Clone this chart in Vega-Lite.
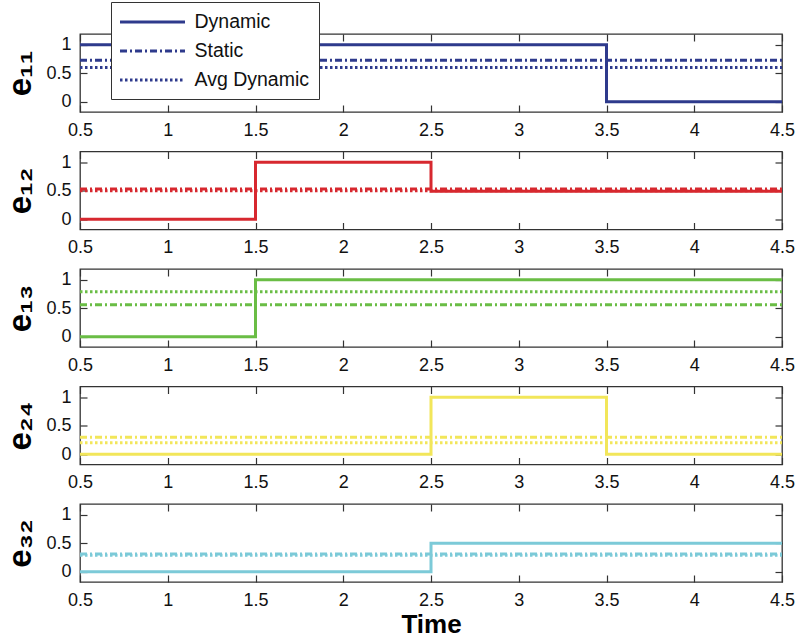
{
  "$schema": "https://vega.github.io/schema/vega-lite/v6.json",
  "padding": {"left": 4, "top": 0, "right": 0, "bottom": 0},
  "bounds": "flush",
  "spacing": 39.5,
  "background": "white",
  "config": {
    "font": "Liberation Sans",
    "view": {"stroke": "#333333", "strokeWidth": 1.3},
    "axis": {
      "grid": false,
      "domain": false,
      "labelFlush": false,
      "labelFont": "Liberation Sans",
      "labelFontSize": 18,
      "labelColor": "#111111",
      "tickColor": "#333333",
      "tickSize": -7,
      "tickWidth": 1.2,
      "labelPadding": 16,
      "titleFont": "Liberation Sans",
      "titleFontSize": 26,
      "titleFontWeight": "bold",
      "titleColor": "#000000"
    },
    "legend": {
      "fillColor": "white",
      "strokeColor": "#333333",
      "padding": 9,
      "labelFont": "Liberation Sans",
      "labelFontSize": 19.5,
      "labelColor": "#111111",
      "symbolType": "M-3.42,0H3.42",
      "symbolSize": 361,
      "symbolOffset": 21.5,
      "symbolStrokeWidth": 3,
      "labelOffset": 31,
      "rowPadding": 8,
      "cornerRadius": 0
    }
  },
  "datasets": {
    "dyn": [
      {"p": "e11", "t": 0.5, "v": 1}, {"p": "e11", "t": 3.5, "v": 0}, {"p": "e11", "t": 4.5, "v": 0},
      {"p": "e12", "t": 0.5, "v": 0}, {"p": "e12", "t": 1.5, "v": 1}, {"p": "e12", "t": 2.5, "v": 0.49}, {"p": "e12", "t": 4.5, "v": 0.49},
      {"p": "e13", "t": 0.5, "v": 0}, {"p": "e13", "t": 1.5, "v": 1}, {"p": "e13", "t": 4.5, "v": 1},
      {"p": "e24", "t": 0.5, "v": 0}, {"p": "e24", "t": 2.5, "v": 1}, {"p": "e24", "t": 3.5, "v": 0}, {"p": "e24", "t": 4.5, "v": 0},
      {"p": "e32", "t": 0.5, "v": 0}, {"p": "e32", "t": 2.5, "v": 0.5}, {"p": "e32", "t": 4.5, "v": 0.5}
    ],
    "lev": [
      {"p": "e11", "s": "Static", "t": 0.5, "v": 0.73}, {"p": "e11", "s": "Static", "t": 4.5, "v": 0.73},
      {"p": "e11", "s": "Avg Dynamic", "t": 0.5, "v": 0.6}, {"p": "e11", "s": "Avg Dynamic", "t": 4.5, "v": 0.6},
      {"p": "e12", "s": "Static", "t": 0.5, "v": 0.53}, {"p": "e12", "s": "Static", "t": 4.5, "v": 0.53},
      {"p": "e12", "s": "Avg Dynamic", "t": 0.5, "v": 0.5}, {"p": "e12", "s": "Avg Dynamic", "t": 4.5, "v": 0.5},
      {"p": "e13", "s": "Static", "t": 0.5, "v": 0.56}, {"p": "e13", "s": "Static", "t": 4.5, "v": 0.56},
      {"p": "e13", "s": "Avg Dynamic", "t": 0.5, "v": 0.79}, {"p": "e13", "s": "Avg Dynamic", "t": 4.5, "v": 0.79},
      {"p": "e24", "s": "Static", "t": 0.5, "v": 0.3}, {"p": "e24", "s": "Static", "t": 4.5, "v": 0.3},
      {"p": "e24", "s": "Avg Dynamic", "t": 0.5, "v": 0.2}, {"p": "e24", "s": "Avg Dynamic", "t": 4.5, "v": 0.2},
      {"p": "e32", "s": "Static", "t": 0.5, "v": 0.31}, {"p": "e32", "s": "Static", "t": 4.5, "v": 0.31},
      {"p": "e32", "s": "Avg Dynamic", "t": 0.5, "v": 0.29}, {"p": "e32", "s": "Avg Dynamic", "t": 4.5, "v": 0.29}
    ]
  },
  "resolve": {"scale": {"strokeDash": "independent"}},
  "vconcat": [
    {
      "width": 702, "height": 78,
      "layer": [
        {
          "data": {"name": "dyn"},
          "transform": [{"filter": "datum.p == 'e11'"}],
          "mark": {"type": "line", "interpolate": "step-after", "color": "#2E3A8C", "strokeWidth": 3},
          "encoding": {
            "x": {"field": "t", "type": "quantitative", "scale": {"domain": [0.5, 4.5], "nice": false, "zero": false}, "axis": {"orient": "bottom", "values": [0.5, 1, 1.5, 2, 2.5, 3, 3.5, 4, 4.5], "format": "~g", "title": null}},
            "y": {"field": "v", "type": "quantitative", "scale": {"domain": [-0.18, 1.19], "nice": false, "zero": false}, "axis": {"orient": "left", "values": [0, 0.5, 1], "format": "~g", "title": "e₁₁", "titleFontSize": 33, "titlePadding": 8}}
          }
        },
        {
          "data": {"name": "lev"},
          "transform": [{"filter": "datum.p == 'e11'"}],
          "mark": {"type": "line", "color": "#2E3A8C", "strokeWidth": 3},
          "encoding": {
            "x": {"field": "t", "type": "quantitative", "axis": {"orient": "top", "values": [0.5, 1, 1.5, 2, 2.5, 3, 3.5, 4, 4.5], "labels": false, "title": null}},
            "y": {"field": "v", "type": "quantitative", "axis": {"orient": "right", "values": [0, 0.5, 1], "labels": false, "title": null}},
            "strokeDash": {"field": "s", "type": "nominal", "scale": {"domain": ["Dynamic", "Static", "Avg Dynamic"], "range": [[1, 0], [7, 3, 2, 3], [2.5, 2.5]]}, "legend": {"orient": "none", "legendX": 31, "legendY": -32, "title": null, "symbolStrokeColor": "#2E3A8C"}}
          }
        }
      ],
      "resolve": {"axis": {"x": "independent", "y": "independent"}}
    },
    {
      "width": 702, "height": 78,
      "layer": [
        {
          "data": {"name": "dyn"},
          "transform": [{"filter": "datum.p == 'e12'"}],
          "mark": {"type": "line", "interpolate": "step-after", "color": "#D7282F", "strokeWidth": 3},
          "encoding": {
            "x": {"field": "t", "type": "quantitative", "scale": {"domain": [0.5, 4.5], "nice": false, "zero": false}, "axis": {"orient": "bottom", "values": [0.5, 1, 1.5, 2, 2.5, 3, 3.5, 4, 4.5], "format": "~g", "title": null}},
            "y": {"field": "v", "type": "quantitative", "scale": {"domain": [-0.18, 1.19], "nice": false, "zero": false}, "axis": {"orient": "left", "values": [0, 0.5, 1], "format": "~g", "title": "e₁₂", "titleFontSize": 33, "titlePadding": 8}}
          }
        },
        {
          "data": {"name": "lev"},
          "transform": [{"filter": "datum.p == 'e12'"}],
          "mark": {"type": "line", "color": "#D7282F", "strokeWidth": 3},
          "encoding": {
            "x": {"field": "t", "type": "quantitative", "axis": {"orient": "top", "values": [0.5, 1, 1.5, 2, 2.5, 3, 3.5, 4, 4.5], "labels": false, "title": null}},
            "y": {"field": "v", "type": "quantitative", "axis": {"orient": "right", "values": [0, 0.5, 1], "labels": false, "title": null}},
            "strokeDash": {"field": "s", "type": "nominal", "scale": {"domain": ["Dynamic", "Static", "Avg Dynamic"], "range": [[1, 0], [7, 3, 2, 3], [2.5, 2.5]]}, "legend": null}
          }
        }
      ],
      "resolve": {"axis": {"x": "independent", "y": "independent"}}
    },
    {
      "width": 702, "height": 78,
      "layer": [
        {
          "data": {"name": "dyn"},
          "transform": [{"filter": "datum.p == 'e13'"}],
          "mark": {"type": "line", "interpolate": "step-after", "color": "#6ABD45", "strokeWidth": 3},
          "encoding": {
            "x": {"field": "t", "type": "quantitative", "scale": {"domain": [0.5, 4.5], "nice": false, "zero": false}, "axis": {"orient": "bottom", "values": [0.5, 1, 1.5, 2, 2.5, 3, 3.5, 4, 4.5], "format": "~g", "title": null}},
            "y": {"field": "v", "type": "quantitative", "scale": {"domain": [-0.18, 1.19], "nice": false, "zero": false}, "axis": {"orient": "left", "values": [0, 0.5, 1], "format": "~g", "title": "e₁₃", "titleFontSize": 33, "titlePadding": 8}}
          }
        },
        {
          "data": {"name": "lev"},
          "transform": [{"filter": "datum.p == 'e13'"}],
          "mark": {"type": "line", "color": "#6ABD45", "strokeWidth": 3},
          "encoding": {
            "x": {"field": "t", "type": "quantitative", "axis": {"orient": "top", "values": [0.5, 1, 1.5, 2, 2.5, 3, 3.5, 4, 4.5], "labels": false, "title": null}},
            "y": {"field": "v", "type": "quantitative", "axis": {"orient": "right", "values": [0, 0.5, 1], "labels": false, "title": null}},
            "strokeDash": {"field": "s", "type": "nominal", "scale": {"domain": ["Dynamic", "Static", "Avg Dynamic"], "range": [[1, 0], [7, 3, 2, 3], [2.5, 2.5]]}, "legend": null}
          }
        }
      ],
      "resolve": {"axis": {"x": "independent", "y": "independent"}}
    },
    {
      "width": 702, "height": 78,
      "layer": [
        {
          "data": {"name": "dyn"},
          "transform": [{"filter": "datum.p == 'e24'"}],
          "mark": {"type": "line", "interpolate": "step-after", "color": "#F2E65A", "strokeWidth": 3},
          "encoding": {
            "x": {"field": "t", "type": "quantitative", "scale": {"domain": [0.5, 4.5], "nice": false, "zero": false}, "axis": {"orient": "bottom", "values": [0.5, 1, 1.5, 2, 2.5, 3, 3.5, 4, 4.5], "format": "~g", "title": null}},
            "y": {"field": "v", "type": "quantitative", "scale": {"domain": [-0.18, 1.19], "nice": false, "zero": false}, "axis": {"orient": "left", "values": [0, 0.5, 1], "format": "~g", "title": "e₂₄", "titleFontSize": 33, "titlePadding": 8}}
          }
        },
        {
          "data": {"name": "lev"},
          "transform": [{"filter": "datum.p == 'e24'"}],
          "mark": {"type": "line", "color": "#F2E65A", "strokeWidth": 3},
          "encoding": {
            "x": {"field": "t", "type": "quantitative", "axis": {"orient": "top", "values": [0.5, 1, 1.5, 2, 2.5, 3, 3.5, 4, 4.5], "labels": false, "title": null}},
            "y": {"field": "v", "type": "quantitative", "axis": {"orient": "right", "values": [0, 0.5, 1], "labels": false, "title": null}},
            "strokeDash": {"field": "s", "type": "nominal", "scale": {"domain": ["Dynamic", "Static", "Avg Dynamic"], "range": [[1, 0], [7, 3, 2, 3], [2.5, 2.5]]}, "legend": null}
          }
        }
      ],
      "resolve": {"axis": {"x": "independent", "y": "independent"}}
    },
    {
      "width": 702, "height": 78,
      "layer": [
        {
          "data": {"name": "dyn"},
          "transform": [{"filter": "datum.p == 'e32'"}],
          "mark": {"type": "line", "interpolate": "step-after", "color": "#7CCAD8", "strokeWidth": 3},
          "encoding": {
            "x": {"field": "t", "type": "quantitative", "scale": {"domain": [0.5, 4.5], "nice": false, "zero": false}, "axis": {"orient": "bottom", "values": [0.5, 1, 1.5, 2, 2.5, 3, 3.5, 4, 4.5], "format": "~g", "title": "Time", "titlePadding": 2}},
            "y": {"field": "v", "type": "quantitative", "scale": {"domain": [-0.18, 1.19], "nice": false, "zero": false}, "axis": {"orient": "left", "values": [0, 0.5, 1], "format": "~g", "title": "e₃₂", "titleFontSize": 33, "titlePadding": 8}}
          }
        },
        {
          "data": {"name": "lev"},
          "transform": [{"filter": "datum.p == 'e32'"}],
          "mark": {"type": "line", "color": "#7CCAD8", "strokeWidth": 3},
          "encoding": {
            "x": {"field": "t", "type": "quantitative", "axis": {"orient": "top", "values": [0.5, 1, 1.5, 2, 2.5, 3, 3.5, 4, 4.5], "labels": false, "title": null}},
            "y": {"field": "v", "type": "quantitative", "axis": {"orient": "right", "values": [0, 0.5, 1], "labels": false, "title": null}},
            "strokeDash": {"field": "s", "type": "nominal", "scale": {"domain": ["Dynamic", "Static", "Avg Dynamic"], "range": [[1, 0], [7, 3, 2, 3], [2.5, 2.5]]}, "legend": null}
          }
        }
      ],
      "resolve": {"axis": {"x": "independent", "y": "independent"}}
    }
  ]
}
